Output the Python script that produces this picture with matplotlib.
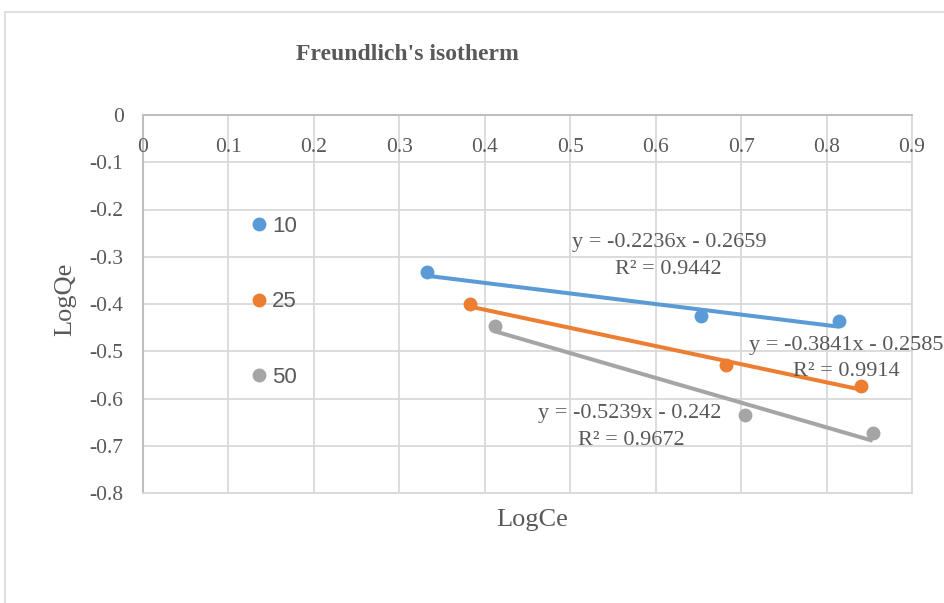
import matplotlib
matplotlib.use("Agg")
import matplotlib.pyplot as plt
from matplotlib.patches import Rectangle
import numpy as np

plt.rcParams['axes.unicode_minus'] = False

# ---- data ----
series_names = ["10", "25", "50"]
x_10 = [0.332, 0.653, 0.815]
y_10 = [-0.332, -0.425, -0.437]
x_25 = [0.383, 0.682, 0.840]
y_25 = [-0.400, -0.529, -0.574]
x_50 = [0.412, 0.705, 0.854]
y_50 = [-0.447, -0.635, -0.673]
slopes = [-0.2236, -0.3841, -0.5239]
intercepts = [-0.2659, -0.2585, -0.242]
r2_values = [0.9442, 0.9914, 0.9672]
x_ticks = [0, 0.1, 0.2, 0.3, 0.4, 0.5, 0.6, 0.7, 0.8, 0.9]
x_tick_labels = ["0", "0.1", "0.2", "0.3", "0.4", "0.5", "0.6", "0.7", "0.8", "0.9"]
y_ticks = [0, -0.1, -0.2, -0.3, -0.4, -0.5, -0.6, -0.7, -0.8]
y_tick_labels = ["0", "-0.1", "-0.2", "-0.3", "-0.4", "-0.5", "-0.6", "-0.7", "-0.8"]

colors = ["#5B9BD5", "#ED7D31", "#A5A5A5"]
text_color = "#595959"
serif = "Liberation Serif"
sans = "Liberation Sans"

W, H = 945, 603
fig = plt.figure(figsize=(W / 100, H / 100), dpi=100)
fig.patch.set_facecolor("white")

# outer chart border
fig.patches.append(Rectangle((5 / W, -0.1), 1.2, 1 - 12 / H + 0.1, transform=fig.transFigure,
                             fill=False, edgecolor="#D9D9D9", linewidth=1.2))

left, right, top, bottom = 143, 912, 115, 493
ax = fig.add_axes([left / W, 1 - bottom / H, (right - left) / W, (bottom - top) / H])
ax.set_xlim(0, 0.9)
ax.set_ylim(-0.8, 0)

ax.set_xticks(x_ticks)
ax.set_yticks(y_ticks)
ax.grid(True, color="#D9D9D9", linewidth=1.3)
ax.set_axisbelow(True)
for s in ["right", "bottom"]:
    ax.spines[s].set_color("#D9D9D9")
    ax.spines[s].set_linewidth(1.3)
for s in ["left", "top"]:
    ax.spines[s].set_color("#BFBFBF")
    ax.spines[s].set_linewidth(1.5)

ax.tick_params(axis="both", length=0)
ax.set_yticklabels(y_tick_labels, fontfamily=serif, fontsize=15.5, color=text_color)
ax.tick_params(axis="y", pad=14)
ax.set_xticklabels([])
for xv, lab in zip(x_ticks, x_tick_labels):
    ax.annotate(lab, xy=(xv, 0), xytext=(0, -23), textcoords="offset pixels",
                ha="center", va="top", fontfamily=serif, fontsize=15.5, color=text_color,
                annotation_clip=False)

xs = [x_10, x_25, x_50]
ys = [y_10, y_25, y_50]
for name, xv, yv, c, m, b in zip(series_names, xs, ys, colors, slopes, intercepts):
    xl = np.array([min(xv), max(xv)])
    ax.plot(xl, m * xl + b, color=c, linewidth=2.9, solid_capstyle="butt", zorder=3)
    ax.plot(xv, yv, "o", color=c, markersize=10, label=name, zorder=4, markeredgewidth=0)

# trendline labels
eq_pos = [((0.6156, -0.2688), (0.6145, -0.328)),
          ((0.8228, -0.4868), (0.8228, -0.5439)),
          ((0.570, -0.6307), (0.571, -0.688))]
for (p1, p2), m, b, r2 in zip(eq_pos, slopes, intercepts, r2_values):
    ax.text(p1[0], p1[1], f"y = {m:.4g}x - {abs(b):.4g}", ha="center", va="center",
            fontfamily=serif, fontsize=16, color=text_color, zorder=5)
    ax.text(p2[0], p2[1], f"R² = {r2:.4f}", ha="center", va="center",
            fontfamily=serif, fontsize=16, color=text_color, zorder=5)

ax.set_xlabel("LogCe", fontfamily=serif, fontsize=19, color=text_color)
ax.xaxis.label.set_va("center")
ax.xaxis.set_label_coords((532 - left) / (right - left), (bottom - 520) / (bottom - top))
ax.set_ylabel("LogQe", fontfamily=serif, fontsize=19, color=text_color)
ax.yaxis.label.set_va("center")
ax.yaxis.set_label_coords((65 - left) / (right - left), (bottom - 299) / (bottom - top))

fig.text(407 / W, 1 - 55 / H, "Freundlich's isotherm", ha="center", va="center",
         fontfamily=serif, fontsize=17, fontweight="bold", color=text_color)

leg = ax.legend(loc="upper left", bbox_to_anchor=(252 / W, 1 - 216 / H),
                bbox_transform=fig.transFigure, frameon=False,
                prop={"family": sans, "size": 16}, labelspacing=2.45,
                handlelength=0.6, handletextpad=0.3, borderpad=0, borderaxespad=0,
                labelcolor=text_color)

fig.savefig("out.png", dpi=100)
